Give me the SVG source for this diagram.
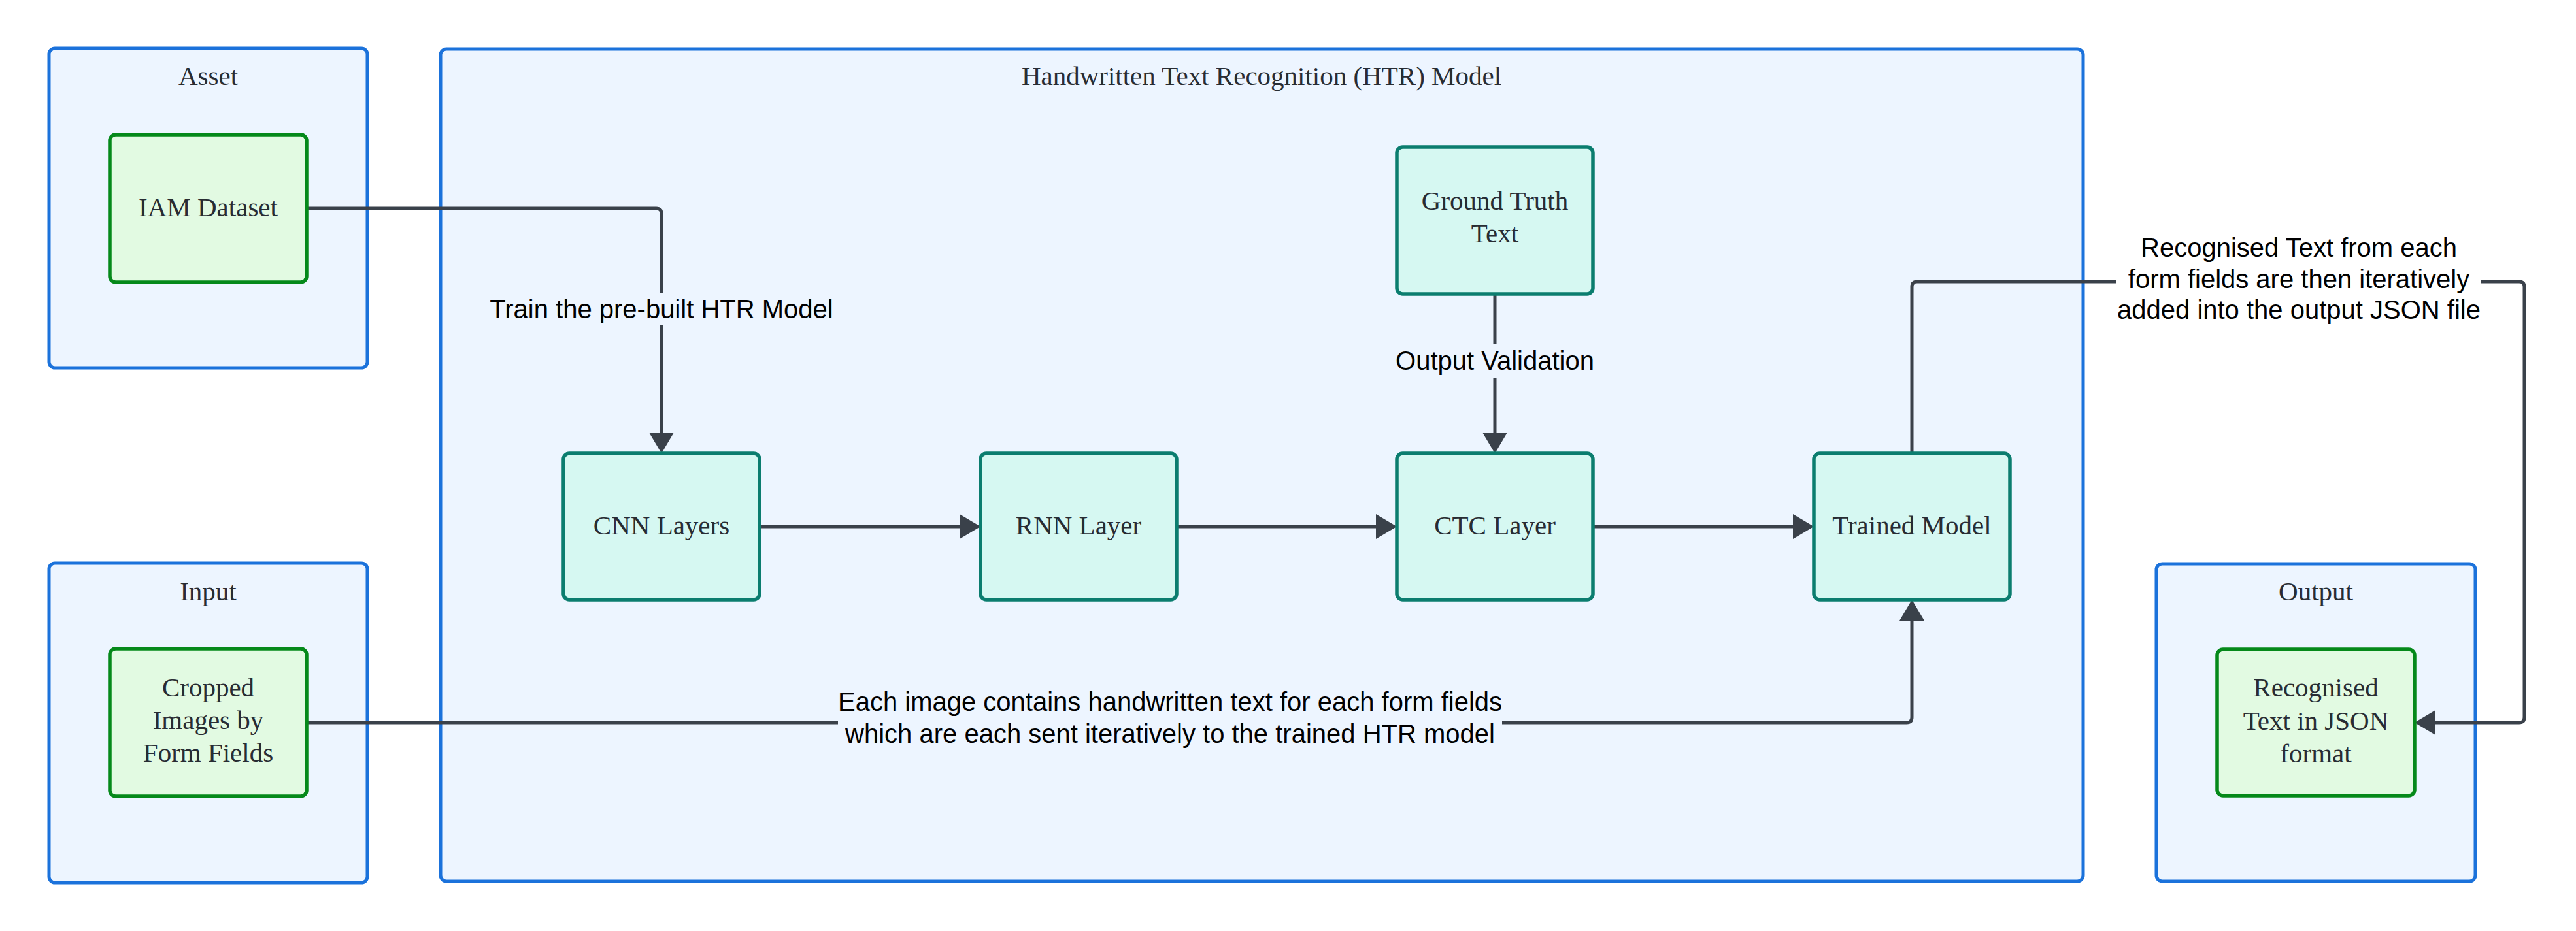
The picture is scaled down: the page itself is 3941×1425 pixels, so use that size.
<svg xmlns="http://www.w3.org/2000/svg" width="3941" height="1425" viewBox="0 0 3941 1425">
<style>
.container{fill:#EDF5FF;stroke:#1B72DB;stroke-width:5}
.green{fill:#E2FAE2;stroke:#05891A;stroke-width:5.5}
.teal{fill:#D6F8F2;stroke:#0B7D6F;stroke-width:5.5}
.ntext{font-family:"Liberation Serif","Times New Roman",serif;font-size:41px;fill:#282C33;text-anchor:middle}
.ltext{font-family:"Liberation Sans",Arial,sans-serif;font-size:40px;fill:#000000;text-anchor:middle}
.conn{fill:none;stroke:#3A414A;stroke-width:5;marker-end:url(#arrow)}
</style>
<defs>
<marker id="arrow" markerUnits="userSpaceOnUse" markerWidth="32" markerHeight="38" viewBox="0 0 32 38" refX="22" refY="19" orient="auto">
<path d="M0,0 L32,19 L0,38 Z" fill="#3A414A"/>
</marker>
</defs>
<rect width="3941" height="1425" fill="#FFFFFF"/>

<g id="container-asset">
<rect class="container" x="75" y="74" width="487" height="489" rx="9"/>
<text class="ntext" x="318.5" y="130">Asset</text>
</g>
<g id="container-input">
<rect class="container" x="75" y="862" width="487" height="489" rx="9"/>
<text class="ntext" x="318.5" y="919">Input</text>
</g>
<g id="container-htr">
<rect class="container" x="674" y="75" width="2513" height="1274" rx="9"/>
<text class="ntext" x="1930" y="130">Handwritten Text Recognition (HTR) Model</text>
</g>
<g id="container-output">
<rect class="container" x="3299" y="863" width="488" height="486" rx="9"/>
<text class="ntext" x="3543" y="919">Output</text>
</g>

<g id="connectors">
<path class="conn" d="M469,319 H1004 Q1012,319 1012,327 V684"/>
<path class="conn" d="M1162,806 H1490"/>
<path class="conn" d="M1800,806 H2127"/>
<path class="conn" d="M2437,806 H2765"/>
<path class="conn" d="M2287,450 V684"/>
<path class="conn" d="M2925,694 V439 Q2925,431 2933,431 H3854 Q3862,431 3862,439 V1098 Q3862,1106 3854,1106 H3704"/>
<path class="conn" d="M469,1106 H2917 Q2925,1106 2925,1098 V928"/>
</g>

<g id="labels">
<rect x="748" y="449" width="528" height="48" fill="#EDF5FF"/>
<text class="ltext" x="1012" y="487">Train the pre-built HTR Model</text>
<rect x="2122" y="526" width="330" height="52" fill="#EDF5FF"/>
<text class="ltext" x="2287" y="566">Output Validation</text>
<rect x="1282" y="1053" width="1016" height="96" fill="#EDF5FF"/>
<text class="ltext" x="1790" y="1088">Each image contains handwritten text for each form fields</text>
<text class="ltext" x="1790" y="1137">which are each sent iteratively to the trained HTR model</text>
<rect x="3238" y="353" width="557" height="145" fill="#FFFFFF"/>
<text class="ltext" x="3517" y="393">Recognised Text from each</text>
<text class="ltext" x="3517" y="441">form fields are then iteratively</text>
<text class="ltext" x="3517" y="488">added into the output JSON file</text>
</g>

<g id="node-iam">
<rect class="green" x="168" y="206" width="301" height="226" rx="9"/>
<text class="ntext" x="318.5" y="331">IAM Dataset</text>
</g>
<g id="node-cropped">
<rect class="green" x="168" y="993" width="301" height="226" rx="9"/>
<text class="ntext" x="318.5" y="1066">Cropped</text>
<text class="ntext" x="318.5" y="1116">Images by</text>
<text class="ntext" x="318.5" y="1166">Form Fields</text>
</g>
<g id="node-cnn">
<rect class="teal" x="862" y="694" width="300" height="224" rx="9"/>
<text class="ntext" x="1012" y="818">CNN Layers</text>
</g>
<g id="node-rnn">
<rect class="teal" x="1500" y="694" width="300" height="224" rx="9"/>
<text class="ntext" x="1650" y="818">RNN Layer</text>
</g>
<g id="node-ctc">
<rect class="teal" x="2137" y="694" width="300" height="224" rx="9"/>
<text class="ntext" x="2287" y="818">CTC Layer</text>
</g>
<g id="node-trained">
<rect class="teal" x="2775" y="694" width="300" height="224" rx="9"/>
<text class="ntext" x="2925" y="818">Trained Model</text>
</g>
<g id="node-groundtruth">
<rect class="teal" x="2137" y="225" width="300" height="225" rx="9"/>
<text class="ntext" x="2287" y="321">Ground Truth</text>
<text class="ntext" x="2287" y="371">Text</text>
</g>
<g id="node-recognised">
<rect class="green" x="3392" y="994" width="302" height="224" rx="9"/>
<text class="ntext" x="3543" y="1066">Recognised</text>
<text class="ntext" x="3543" y="1117">Text in JSON</text>
<text class="ntext" x="3543" y="1167">format</text>
</g>
</svg>
